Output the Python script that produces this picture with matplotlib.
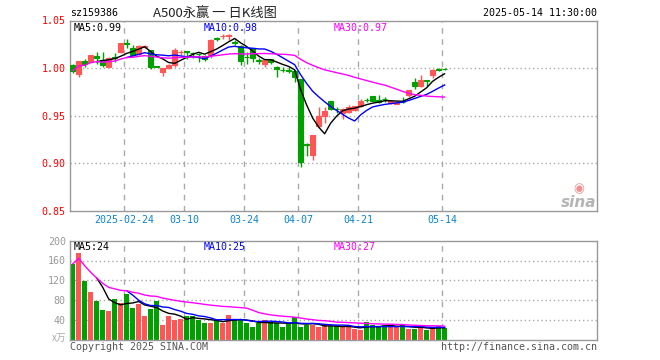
import numpy as np
import matplotlib
matplotlib.use("Agg")
import matplotlib.pyplot as plt
import pandas as pd

# ---------------- data ----------------
opens  = [1.0035,0.9940,1.0070,1.0063,1.0127,1.0081,1.0017,1.0120,1.0169,1.0260,
          1.0211,1.0144,1.0225,1.0187,1.0019,0.9964,1.0003,1.0028,1.0165,1.0180,
          1.0160,1.0153,1.0127,1.0134,1.0312,1.0335,1.0340,1.0270,1.0232,1.0120,
          1.0211,1.0083,1.0046,1.0098,1.0017,0.9984,0.9977,0.9975,0.9887,0.9202,
          0.9093,0.9393,0.9499,0.9657,0.9571,0.9527,0.9541,0.9562,0.9598,0.9667,
          0.9703,0.9665,0.9677,0.9633,0.9626,0.9649,0.9717,0.9859,0.9812,0.9872,
          0.9929,0.9987,0.9995]
highs  = [1.0046,1.0074,1.0098,1.0141,1.0169,1.0169,1.0116,1.0158,1.0268,1.0303,
          1.0239,1.0239,1.0247,1.0190,1.0025,1.0003,1.0040,1.0211,1.0187,1.0185,
          1.0169,1.0160,1.0134,1.0305,1.0328,1.0363,1.0363,1.0292,1.0240,1.0169,
          1.0215,1.0106,1.0085,1.0100,1.0020,1.0010,1.0010,0.9978,0.9890,0.9217,
          0.9294,0.9587,0.9587,0.9660,0.9587,0.9580,0.9612,0.9600,0.9675,0.9682,
          0.9705,0.9717,0.9698,0.9660,0.9650,0.9693,0.9775,0.9895,0.9929,0.9874,
          0.9993,0.9998,1.0003]
lows   = [0.9950,0.9904,1.0010,1.0063,1.0046,1.0010,1.0010,1.0063,1.0158,1.0211,
          1.0123,1.0134,1.0211,0.9993,1.0010,0.9922,0.9995,1.0017,1.0141,1.0098,
          1.0106,1.0063,1.0074,1.0106,1.0282,1.0310,1.0292,1.0239,1.0028,1.0046,
          1.0063,1.0046,1.0010,1.0046,0.9904,0.9957,0.9950,0.9852,0.8963,0.9075,
          0.9040,0.9375,0.9428,0.9562,0.9534,0.9463,0.9534,0.9555,0.9587,0.9640,
          0.9655,0.9633,0.9647,0.9626,0.9620,0.9633,0.9693,0.9780,0.9799,0.9816,
          0.9897,0.9975,0.9985]
closes = [0.9975,1.0070,1.0046,1.0141,1.0106,1.0038,1.0106,1.0110,1.0264,1.0255,
          1.0141,1.0229,1.0232,1.0010,1.0015,1.0000,1.0038,1.0187,1.0170,1.0169,
          1.0156,1.0149,1.0091,1.0299,1.0308,1.0340,1.0345,1.0264,1.0070,1.0113,
          1.0106,1.0079,1.0081,1.0063,0.9993,0.9980,0.9973,0.9904,0.9012,0.9197,
          0.9294,0.9499,0.9552,0.9569,0.9567,0.9576,0.9587,0.9598,0.9657,0.9663,
          0.9657,0.9640,0.9673,0.9654,0.9647,0.9645,0.9770,0.9809,0.9876,0.9868,
          0.9985,0.9983,0.9991]
volumes = [153,176,119,97,78,60,57,82,75,92,
           65,72,47,62,79,30,48,39,42,47,
           47,40,34,34,40,34,50,40,40,34,
           26,34,40,36,33,25,31,46,26,30,
           29,25,29,27,27,25,26,22,20,35,
           29,25,29,26,27,29,22,22,26,20,
           24,27,24]
tick_idx = [9, 19, 29, 38, 48, 62]
tick_labels = ["2025-02-24", "03-10", "03-24", "04-07", "04-21", "05-14"]
price_ticks = [0.85, 0.90, 0.95, 1.00, 1.05]
vol_ticks = [40, 80, 120, 160, 200]

RED = "#ff5555"
GREEN = "#00a000"
GRID = "#aaaaaa"
FRAME = "#999999"
MONO = "DejaVu Sans Mono"

n = len(closes)
x = np.arange(n)
o = np.array(opens); h = np.array(highs); l = np.array(lows); c = np.array(closes)
v = np.array(volumes, dtype=float)
up = c >= o
colors = [RED if u else GREEN for u in up]

cs = pd.Series(c); vs = pd.Series(v)
ma5 = cs.rolling(5).mean(); ma10 = cs.rolling(10).mean(); ma30 = cs.rolling(30, min_periods=1).mean()
vma5 = vs.rolling(5).mean(); vma10 = vs.rolling(10).mean(); vma30 = vs.rolling(30, min_periods=1).mean()

fig = plt.figure(figsize=(6.6, 3.6), dpi=100)
W, H = 660.0, 360.0
def axes_px(x0, y0, x1, y1):
    return fig.add_axes([x0 / W, 1 - y1 / H, (x1 - x0) / W, (y1 - y0) / H])

ax = axes_px(70, 20.5, 597, 211)
axv = axes_px(70, 240.7, 597, 339.7)

xmin, xmax = -0.45, 87.4
for a in (ax, axv):
    a.set_xlim(xmin, xmax)
    for s in a.spines.values():
        s.set_color(FRAME); s.set_linewidth(1)
    a.tick_params(length=0)
    a.set_xticks([])
    for t in tick_idx:
        a.axvline(t - 0.45, color=GRID, lw=1, ls=(0, (4, 4)), zorder=0)

# ---- price panel ----
ax.set_ylim(0.85, 1.05)
ax.set_yticks(price_ticks)
ax.set_yticklabels([f"{t:.2f}" for t in price_ticks], color="red", fontsize=7.2, family=MONO)
ax.tick_params(axis="y", pad=3)
for t in price_ticks[1:-1]:
    ax.axhline(t, color=GRID, lw=1, ls=(0, (1, 2)), zorder=0)
ax.vlines(x, l, h, colors=colors, lw=1, zorder=2)
body_bottom = np.minimum(o, c)
body_h = np.abs(c - o)
ax.bar(x, body_h, bottom=body_bottom, width=0.8, color=colors, edgecolor=colors, lw=0.8, zorder=3)
ax.plot(x, ma5, color="black", lw=1, zorder=4)
ax.plot(x, ma10, color="#0000ff", lw=1, zorder=4)
ax.plot(x, ma30, color="#ff00ff", lw=1, zorder=4)

def lbl(a, px, txt, col):
    a.text((px - 70) / 527.0, 0.985, txt, transform=a.transAxes, color=col, fontsize=7.2,
           family=MONO, va="top", ha="left")
lbl(ax, 74, f"MA5:{ma5.iloc[-1]:.2f}", "black")
lbl(ax, 204, f"MA10:{ma10.iloc[-1]:.2f}", "#0000ff")
lbl(ax, 334, f"MA30:{ma30.iloc[-1]:.2f}", "#ff00ff")

for t, s in zip(tick_idx, tick_labels):
    ax.text(t - 0.45, 0.85 - 0.0045, s, color="#0a84d0", fontsize=7.2, family=MONO,
            ha="center", va="top", transform=ax.transData, clip_on=False)

# sina logo
ax.text(0.998, 0.005, "sina", transform=ax.transAxes, color="#b5b5b5", fontsize=11,
        fontweight="bold", style="italic", ha="right", va="bottom", family="DejaVu Sans")
ax.text(0.966, 0.085, "◉", transform=ax.transAxes, color="#f29090", fontsize=9,
        ha="center", va="bottom", family="DejaVu Sans")

# ---- volume panel ----
axv.set_ylim(0, 200)
axv.set_yticks(vol_ticks)
axv.set_yticklabels([str(t) for t in vol_ticks], color="#999999", fontsize=7.2, family=MONO)
axv.tick_params(axis="y", pad=3)
for t in vol_ticks[:-1]:
    axv.axhline(t, color=GRID, lw=1, ls=(0, (1, 2)), zorder=0)
axv.bar(x, v, width=0.88, color=colors, lw=0, zorder=2)
axv.plot(x, vma5, color="black", lw=1, zorder=4)
axv.plot(x, vma10, color="#0000ff", lw=1, zorder=4)
axv.plot(x, vma30, color="#ff00ff", lw=1, zorder=4)
lbl(axv, 74, f"MA5:{vma5.iloc[-1]:.0f}", "black")
lbl(axv, 204, f"MA10:{vma10.iloc[-1]:.0f}", "#0000ff")
lbl(axv, 334, f"MA30:{vma30.iloc[-1]:.0f}", "#ff00ff")

# ---- header / footer texts ----
fig.text(70 / W, 1 - 13 / H, "sz159386", color="black", fontsize=7.2, family=MONO, va="center", ha="left")
fig.text(215 / W, 1 - 13 / H, "A500永赢 一 日K线图", color="#222222", fontsize=9.5,
         family=["Noto Sans CJK SC", "DejaVu Sans"], va="center", ha="center")
fig.text(597 / W, 1 - 13 / H, "2025-05-14 11:30:00", color="black", fontsize=7.2, family=MONO,
         va="center", ha="right")
fig.text(66 / W, 1 - 338 / H, "x万", color="#aaaaaa", fontsize=7,
         family=["Noto Sans CJK SC", "DejaVu Sans"], va="center", ha="right")
fig.text(70 / W, 1 - 347 / H, "Copyright 2025 SINA.COM", color="#555555", fontsize=7.2, family=MONO,
         va="center", ha="left")
fig.text(597 / W, 1 - 347 / H, "http://finance.sina.com.cn", color="#555555", fontsize=7.2, family=MONO,
         va="center", ha="right")

fig.savefig("out.png", dpi=100, facecolor="white")
